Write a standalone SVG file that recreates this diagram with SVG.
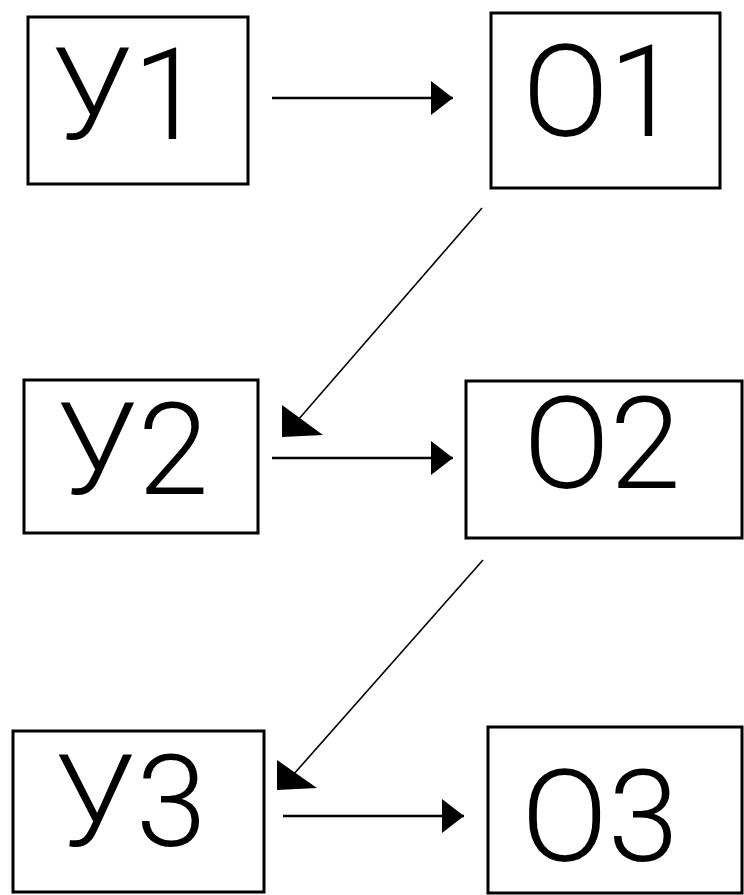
<svg xmlns="http://www.w3.org/2000/svg" width="744" height="895" viewBox="0 0 744 895">
<style>
.box{fill:#fff;stroke:#000;stroke-width:3}
.lbl{font-family:Roboto,"Liberation Sans",Arial,sans-serif;font-weight:300;font-size:128px;fill:#000;text-anchor:middle}
.h{stroke:#000;stroke-width:2.5;fill:none;marker-end:url(#ah)}
.d{stroke:#000;stroke-width:1.6;fill:none}
</style>
<defs>
<marker id="ah" markerUnits="userSpaceOnUse" markerWidth="24" markerHeight="34" refX="22" refY="17" orient="auto">
<polygon points="0,0 22,17 0,34" fill="#000"/>
</marker>
</defs>
<rect width="744" height="895" fill="#fff"/>
<g id="y1"><rect class="box" x="28" y="17" width="220" height="167"/><text class="lbl" x="128" y="139">У1</text></g>
<g id="o1"><rect class="box" x="491" y="13" width="229" height="175"/><text class="lbl" x="601" y="136">О1</text></g>
<g id="y2"><rect class="box" x="24" y="380" width="234" height="153"/><text class="lbl" x="133" y="494">У2</text></g>
<g id="o2"><rect class="box" x="466" y="381" width="276" height="157"/><text class="lbl" x="602" y="488">О2</text></g>
<g id="y3"><rect class="box" x="13" y="731" width="251" height="161"/><text class="lbl" x="131" y="846">У3</text></g>
<g id="o3"><rect class="box" x="488" y="727" width="254" height="166"/><text class="lbl" x="600" y="861">О3</text></g>
<g id="connectors">
<line class="h" x1="272" y1="98" x2="453" y2="98"/>
<line class="h" x1="272" y1="458" x2="453" y2="458"/>
<line class="h" x1="283" y1="816" x2="464" y2="816"/>
<line class="d" x1="482" y1="208" x2="298" y2="420"/>
<polygon points="282,405 282,437 323,435" fill="#000"/>
<line class="d" x1="483" y1="560" x2="293" y2="775"/>
<polygon points="277,760 277,790 317,788" fill="#000"/>
</g>
</svg>
